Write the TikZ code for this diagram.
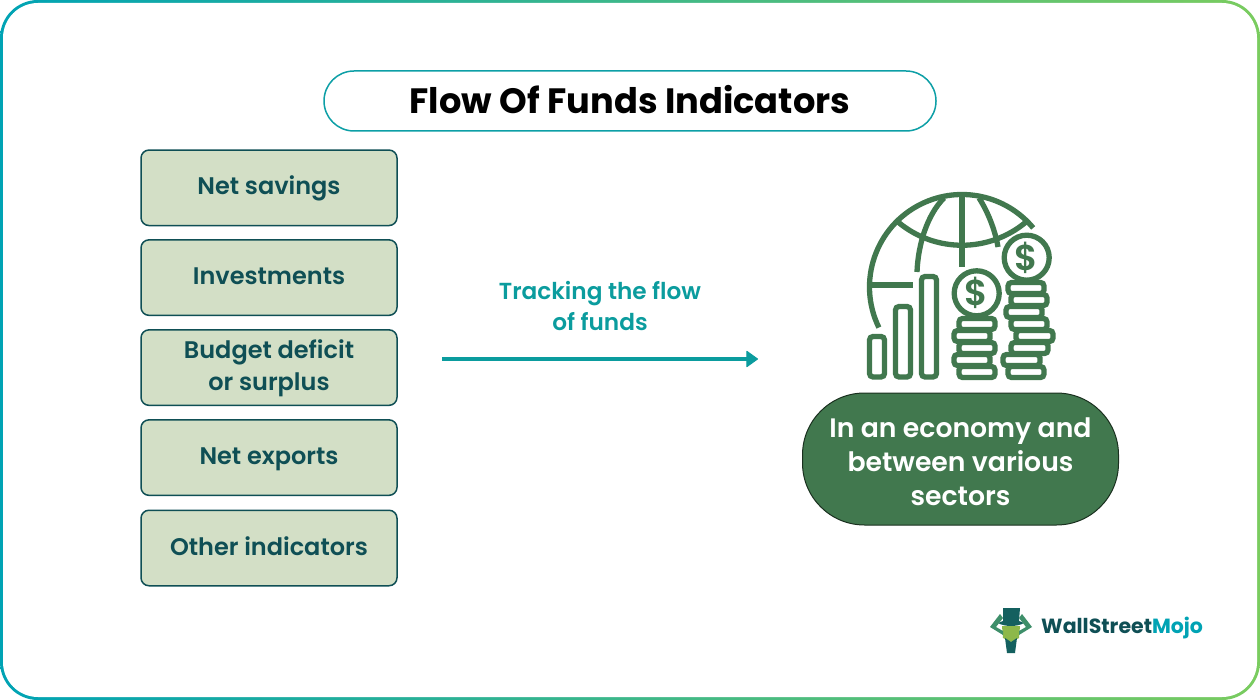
\documentclass[tikz,border=0pt]{standalone}
\usepackage{fontspec}
\usetikzlibrary{arrows.meta}
\setmainfont{Poppins}
\newfontfamily\popsemi{Poppins SemiBold}
\newfontfamily\popbold{Poppins}[UprightFont=*-Bold]
\definecolor{teal1}{HTML}{00A3B4}
\definecolor{grn1}{HTML}{7ACC5F}
\definecolor{pill}{HTML}{0D9FA6}
\definecolor{dark}{HTML}{0F4F55}
\definecolor{boxf}{HTML}{D3DFC6}
\definecolor{icon}{HTML}{41784E}
\definecolor{arrowc}{HTML}{0B9C9E}
\definecolor{hat}{HTML}{14605F}
\definecolor{horn}{HTML}{3E8F6A}
\definecolor{head}{HTML}{8DB84A}
\tikzset{
  indic/.style={draw=dark,line width=1.5pt,fill=boxf,rounded corners=8pt,minimum width=256pt,minimum height=75.5pt,inner sep=0pt,align=center,text=dark,font=\popsemi\fontsize{24}{32}\selectfont},
  one/.style={text height=19pt,text depth=5pt},
  ic/.style={draw=icon,line width=5.3pt,line cap=butt},
  coin/.style={draw=icon,line width=5.3pt,fill=white,rounded corners=3.5pt},
  dollar/.style={font=\popsemi\fontsize{36}{36}\selectfont,text=icon,inner sep=0pt},
}
\begin{document}
\begin{tikzpicture}[x=1pt,y=-1pt]
\useasboundingbox (0,0) rectangle (1260,700);
\fill[white] (0,0) rectangle (1260,700);
\shade[left color=teal1,right color=grn1,rounded corners=38pt] (0,0) rectangle (1260,700);
\fill[white,rounded corners=35pt] (3,3) rectangle (1257,697);
\node[draw=pill,line width=1.5pt,fill=white,rounded corners=30pt,minimum width=612pt,minimum height=60pt,inner sep=0pt,font=\popbold\fontsize{35.2}{40}\selectfont,text=black,text height=35pt,text depth=9pt] (title) at (630,101) {Flow Of Funds Indicators};
\node[indic,one] (a) at (269,187.8) {Net savings};
\node[indic,one] (b) at (269,277.6) {Investments};
\node[indic] (c) at (269,367.6) {\rule{0pt}{20pt}Budget deficit\\or surplus};
\node[indic,one] (d) at (269,457.6) {Net exports};
\node[indic,one] (e) at (269,548) {Other indicators};
\node[font=\popsemi\fontsize{23.2}{31}\selectfont,text=arrowc,align=center] (track) at (600,306) {Tracking the flow\\of funds};
\coordinate (s) at (442,359);
\coordinate (t) at (758,359);
\draw[arrowc,line width=3.6pt,-{Triangle[length=12pt,width=17pt,round,line width=1pt]}] (s) -- (t);
% icon
\draw[ic] (962,287) ++(154:92.5) arc[start angle=154,end angle=320.3,radius=92.5];
\draw[ic] (869,285) -- (913,285);
\draw[ic] (962,194) -- (962,267);
\draw[ic] (898,222) .. controls (935,253) and (989,253) .. (1026,222);
\draw[ic] (944,198) .. controls (927,215) and (918,245) .. (917,272);
\draw[ic] (979,198) .. controls (988,212) and (995,230) .. (998,247);
\foreach \xa/\ya/\xb/\yb in {869.5/336.5/884.5/377, 895.5/306.5/910.5/377, 921.5/276.5/936.5/377}
  \draw[coin] (\xa,\ya) rectangle (\xb,\yb);
\foreach \xa/\xb/\y in {959/995/372, 954/990/360, 959/995/348, 954/990/336, 959/995/324}
  \draw[coin] (\xa,\y-5.5) rectangle (\xb,\y+5.5);
\draw[ic,fill=white] (976.7,293.3) circle[radius=22.5];
\foreach \xa/\xb/\y in {1008/1044/372, 1003/1040/360, 1011/1048/348, 1016/1053/336, 1011/1047/324, 1006/1042/312, 1011/1047/300, 1008/1044/288}
  \draw[coin] (\xa,\y-5.5) rectangle (\xb,\y+5.5);
\draw[ic,fill=white] (1026.7,257.7) circle[radius=22.5];
\node[dollar] (d1) at (976.7,293.3) {\$};
\node[dollar] (d2) at (1026.7,257.7) {\$};
\node[draw=black!60!icon,line width=1pt,fill=icon,rounded corners=62pt,minimum width=316pt,minimum height=132pt,inner sep=0pt,align=center,text=white,font=\popsemi\fontsize{26.7}{34}\selectfont] (sec) at (960.5,459) {\rule{0pt}{26pt}In an economy and\\between various\\sectors};
% logo
\begin{scope}[xshift=1pt]
\fill[hat] (1002,608) -- (1019,608) -- (1018,621) -- (1023,623) .. controls (1016,627) and (1004,627) .. (997,623) -- (1002,621) -- cycle;
\fill[head] (1001,626) -- (1019,626) -- (1018,638) -- (1010,642) -- (1002,638) -- cycle;
\fill[horn] (999,614) -- (989,627) -- (1002,635) -- (1002,631) -- (995,627) -- (1002,618) -- cycle;
\fill[horn] (1021,614) -- (1031,627) -- (1018,635) -- (1018,631) -- (1025,627) -- (1018,618) -- cycle;
\fill[hat] (1004,638) -- (1010,642) -- (1016,638) -- (1014,653) -- (1006,653) -- cycle;
\end{scope}
\node[anchor=west,inner sep=0pt,font=\popbold\fontsize{20.5}{22}\selectfont,text=dark] (ws) at (1041,628) {WallStreet\textcolor{teal1}{Mojo}};
\end{tikzpicture}
\end{document}
